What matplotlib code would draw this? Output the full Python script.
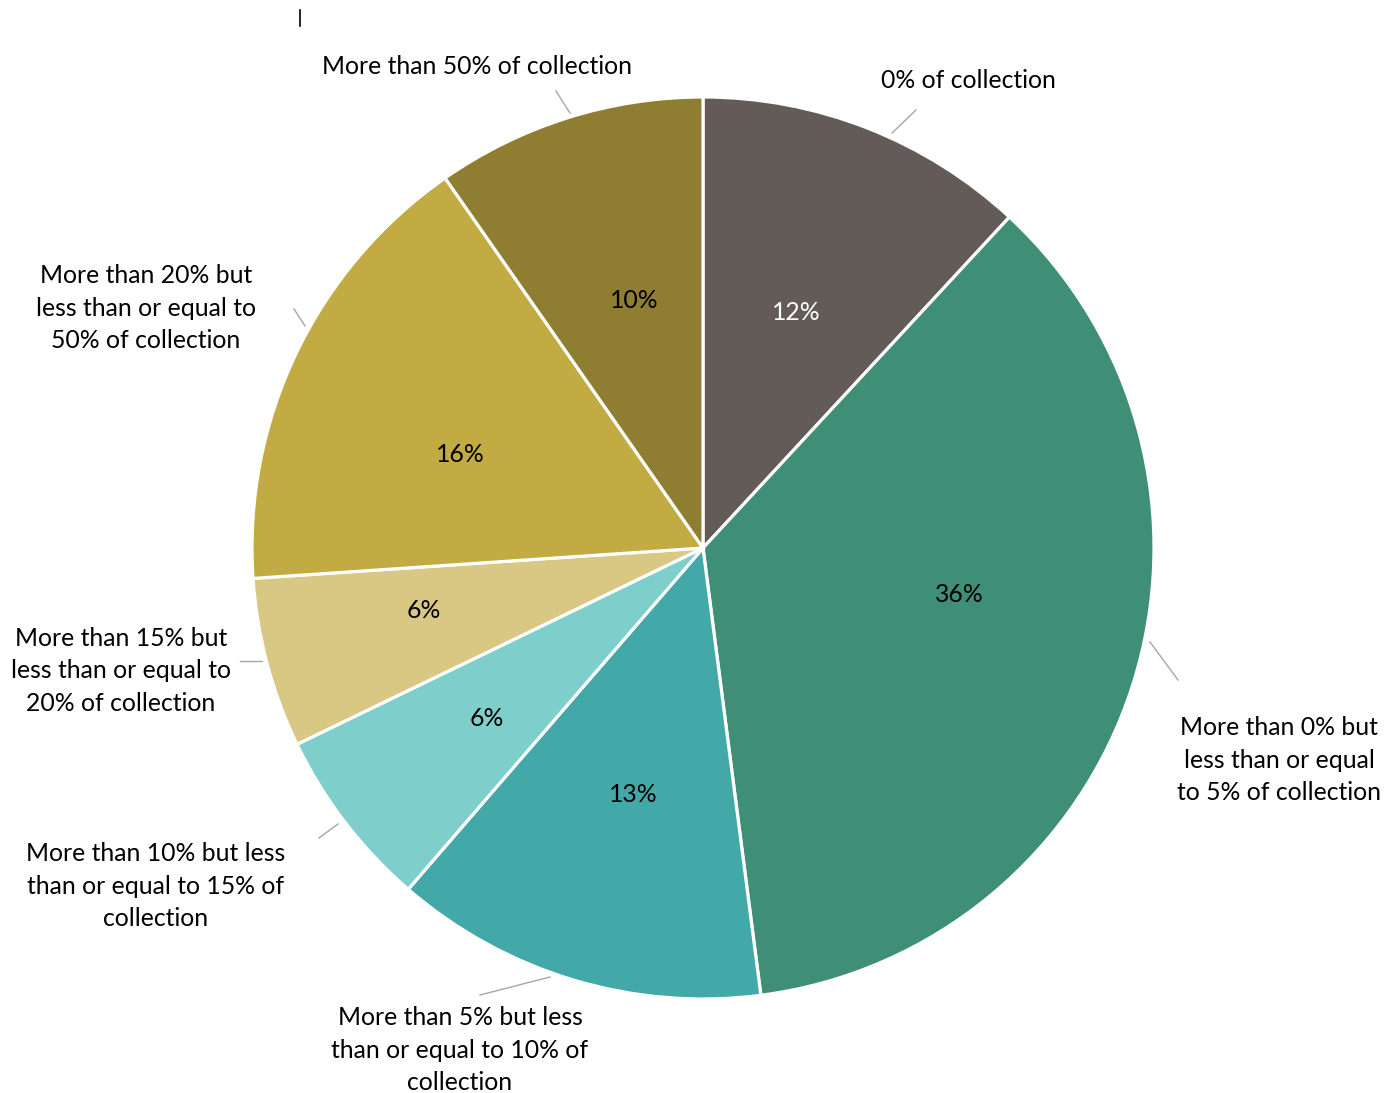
import matplotlib
matplotlib.use("Agg")
import matplotlib.pyplot as plt
import numpy as np

# ---- data ----
categories = [
    "0% of collection",
    "More than 0% but\nless than or equal\nto 5% of collection",
    "More than 5% but less\nthan or equal to 10% of\ncollection",
    "More than 10% but less\nthan or equal to 15% of\ncollection",
    "More than 15% but\nless than or equal to\n20% of collection",
    "More than 20% but\nless than or equal to\n50% of collection",
    "More than 50% of collection",
]
values = [11.9, 36.1, 13.4, 6.5, 6.1, 16.4, 9.7]
pct_labels = ["12%", "36%", "13%", "6%", "6%", "16%", "10%"]
colors = ["#625B57", "#3F8E76", "#43A8A8", "#7ECECC", "#D8C884", "#C1AB42", "#8F7D31"]

W, H = 1397, 1093
fig = plt.figure(figsize=(W / 100, H / 100), dpi=100)
ax = fig.add_axes([0, 0, 1, 1])

cx, cy, R = 703, H - 548, 451
wedges, _ = ax.pie(values, colors=colors, startangle=90, counterclock=False,
                   center=(cx, cy), radius=R, frame=True,
                   wedgeprops=dict(edgecolor="white", linewidth=2.3))
ax.set_xlim(0, W)
ax.set_ylim(0, H)
ax.set_aspect("equal")
ax.axis("off")

font = "Lato"
fs = 17.8
dy = 2  # small vertical correction for text centring

# inner percentage label positions (pixel, from top-left)
pct_pos = [(796, 310), (959, 592), (633, 793), (487, 717), (424, 608), (460, 452), (634, 298)]
for lab, (px, py) in zip(pct_labels, pct_pos):
    tc = "white" if lab == "12%" else "black"
    ax.text(px, H - py - dy, lab, ha="center", va="center", fontsize=fs, color=tc, family=font)

# outer labels (pixel positions from top-left)
label_pos = [(968, 79), (1279, 758), (460, 1048), (156, 884), (121, 669), (146, 306), (477, 64)]
leader = [((892, 133), (916, 110)), ((1150, 642), (1178, 680)), ((480, 995), (550, 977)),
          ((319, 838), (338, 824)), ((240, 661), (262, 661)), ((294, 309), (305, 326)),
          ((556, 91), (570, 113))]

for cat, (px, py), ((x1, y1), (x2, y2)) in zip(categories, label_pos, leader):
    ax.text(px, H - py - dy, cat, ha="center", va="center", fontsize=fs, family=font,
            color="black", linespacing=1.49)
    ax.plot([x1, x2], [H - y1, H - y2], color="#A6A6A6", lw=1.0)

ax.plot([300, 300], [H - 10, H - 26], color="black", lw=1.2)

fig.savefig("out.png", dpi=100, facecolor="white")
